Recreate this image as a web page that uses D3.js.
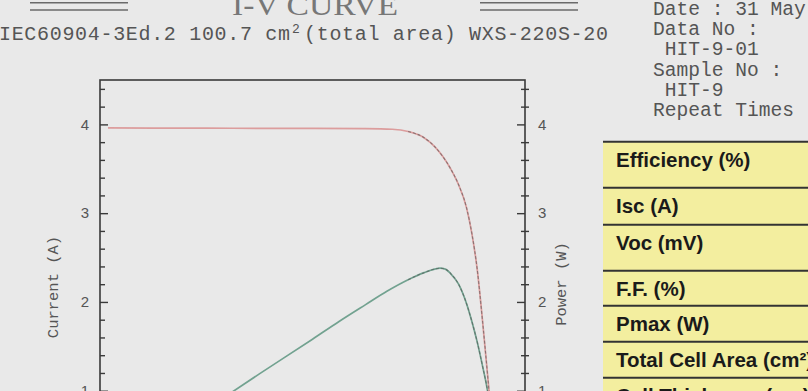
<!DOCTYPE html>
<html>
<head>
<meta charset="utf-8">
<script src="https://cdn.jsdelivr.net/npm/d3@7"></script>
<style>
body{margin:0;background:#e9e9e9;}
svg{display:block;}
</style>
</head>
<body>
<div id="chart"></div>
<script>
// I-V data (voltage in mV)
var voltage=[15,100,200,300,400,500,550,580,610,630,645,660,675,690,700,710,720,730,740,745];
var current=[3.96,3.958,3.957,3.956,3.955,3.952,3.945,3.92,3.85,3.75,3.64,3.5,3.32,3.06,2.77,2.37,1.79,1.15,0.45,0];
var powerVolt=[0,100,200,300,400,450,500,540,580,610,630,640,650,660,675,690,700,710,720,730,740,745];
var power=[0,0.396,0.79,1.19,1.58,1.78,1.97,2.12,2.25,2.33,2.37,2.38,2.37,2.32,2.2,1.98,1.78,1.55,1.28,0.98,0.5,0];
var majorTicks=[0,1,2,3,4];
var minorTicks=[0.2,0.4,0.6,0.8,1.2,1.4,1.6,1.8,2.2,2.4,2.6,2.8,3.2,3.4,3.6,3.8,4.2,4.4];
var title="I-V CURVE";
var subLeft="IEC60904-3Ed.2 100.7 cm";
var subSup="2";
var subRight="(total area) WXS-220S-20";
var infoLines=["Date : 31 May","Data No :"," HIT-9-01","Sample No :"," HIT-9","Repeat Times"];
var rowLabels=["Efficiency (%)","Isc (A)","Voc (mV)","F.F. (%)","Pmax (W)","Total Cell Area (cm\u00b2)","Cell Thickness (\u03bcm)"];

var wide=808;
var high=391;
var bg="#e9e9e9";
var ink="#555";
var plotLeft=100,plotRight=525,plotTop=80,zeroY=479.5;
var rowHeights=[46,37,46,35,36,36,36];

var svg=d3
  .select("#chart")
  .append("svg")
  .attr("width",wide)
  .attr("height",high)
  .style("background",bg);

// header
[[30,128],[480,578]].forEach(function(r){
  [2.8,10].forEach(function(yy){
    svg.append("line")
      .attr("x1",r[0]).attr("x2",r[1])
      .attr("y1",yy).attr("y2",yy)
      .attr("stroke","#6a6a6a").attr("stroke-width",1.6);
  });
});
svg.append("text")
  .attr("x",232).attr("y",15)
  .attr("font-family","Liberation Serif")
  .attr("font-size",30)
  .attr("textLength",166)
  .attr("lengthAdjust","spacingAndGlyphs")
  .attr("fill","#777")
  .text(title);
svg.append("text")
  .attr("x",-1).attr("y",40)
  .attr("font-family","Liberation Mono")
  .attr("font-size",20)
  .attr("textLength",291)
  .attr("fill",ink)
  .text(subLeft);
svg.append("text")
  .attr("x",292).attr("y",33)
  .attr("font-family","Liberation Mono")
  .attr("font-size",13)
  .attr("fill",ink)
  .text(subSup);
svg.append("text")
  .attr("x",304).attr("y",40)
  .attr("font-family","Liberation Mono")
  .attr("font-size",20)
  .attr("textLength",304)
  .attr("fill",ink)
  .text(subRight);
svg.append("g")
  .selectAll("text")
  .data(infoLines)
  .enter()
  .append("text")
  .attr("x",653)
  .attr("y",function(d,i){return 15+i*20.2;})
  .attr("font-family","Liberation Mono")
  .attr("font-size",19.6)
  .attr("fill",ink)
  .attr("xml:space","preserve")
  .style("white-space","pre")
  .text(function(d){return d;});

// scales
var xscale=d3.scaleLinear().domain([0,800]).range([plotLeft,plotRight]);
var yscale=d3.scaleLinear().domain([0,4.5]).range([zeroY,plotTop]);
var pscale=d3.scaleLinear().domain([0,4.5]).range([zeroY,plotTop]);

function styleAxis(g){
  g.select(".domain").remove();
  g.attr("color","#3a3a3a")
    .attr("font-family","Liberation Sans")
    .attr("font-size",15);
  g.selectAll("text").attr("fill",ink);
  g.selectAll(".tick line").attr("stroke-width",1.4);
}
svg.append("g")
  .attr("transform","translate("+plotLeft+",0)")
  .call(d3.axisLeft(yscale).tickValues(minorTicks).tickSize(-5).tickFormat(""))
  .call(styleAxis);
svg.append("g")
  .attr("transform","translate("+plotLeft+",0)")
  .call(d3.axisLeft(yscale).tickValues(majorTicks).tickSize(-8).tickPadding(11).tickFormat(d3.format("d")))
  .call(styleAxis);
svg.append("g")
  .attr("transform","translate("+plotRight+",0)")
  .call(d3.axisRight(pscale).tickValues(minorTicks).tickSize(4).tickFormat(""))
  .call(styleAxis)
  .selectAll(".tick line").attr("x1",-4);
svg.append("g")
  .attr("transform","translate("+plotRight+",0)")
  .call(d3.axisRight(pscale).tickValues(majorTicks).tickSize(-8).tickPadding(13).tickFormat(d3.format("d")))
  .call(styleAxis);

svg.append("rect")
  .attr("x",plotLeft).attr("y",plotTop)
  .attr("width",plotRight-plotLeft)
  .attr("height",zeroY-plotTop)
  .attr("fill","none")
  .attr("stroke","#3a3a3a")
  .attr("stroke-width",1.6);

svg.append("text")
  .attr("transform","translate(58,287)rotate(-90)")
  .attr("text-anchor","middle")
  .attr("font-family","Liberation Mono")
  .attr("font-size",15.5)
  .attr("fill",ink)
  .text("Current (A)");
svg.append("text")
  .attr("transform","translate(566,284)rotate(-90)")
  .attr("text-anchor","middle")
  .attr("font-family","Liberation Mono")
  .attr("font-size",15.5)
  .attr("fill",ink)
  .text("Power (W)");

// curves
var ivData=d3.zip(voltage,current);
var pvData=d3.zip(powerVolt,power);
var ivLine=d3.line()
  .x(function(d){return xscale(d[0]);})
  .y(function(d){return yscale(d[1]);})
  .curve(d3.curveMonotoneX);
var pvLine=d3.line()
  .x(function(d){return xscale(d[0]);})
  .y(function(d){return pscale(d[1]);})
  .curve(d3.curveMonotoneX);
svg.append("path")
  .attr("d",pvLine(pvData))
  .attr("fill","none")
  .attr("stroke","#72a290")
  .attr("stroke-width",1.7);
svg.append("path")
  .attr("d",ivLine(ivData))
  .attr("fill","none")
  .attr("stroke","#dc9d9d")
  .attr("stroke-width",1.7);
svg.append("path")
  .attr("d",pvLine(pvData.filter(function(d){return d[0]>=560;})))
  .attr("fill","none")
  .attr("stroke","#555")
  .attr("stroke-width",1.1)
  .attr("stroke-dasharray","3,2")
  .attr("opacity",0.6);
svg.append("path")
  .attr("d",ivLine(ivData.filter(function(d){return d[0]>=560;})))
  .attr("fill","none")
  .attr("stroke","#555")
  .attr("stroke-width",1.1)
  .attr("stroke-dasharray","3,2")
  .attr("opacity",0.6);

// parameter table
var tableLeft=603,tableTop=141.7;
var tops=[];
var acc=tableTop;
rowHeights.forEach(function(h){tops.push(acc);acc+=h;});
svg.append("rect")
  .attr("x",tableLeft).attr("y",tableTop)
  .attr("width",wide-tableLeft)
  .attr("height",acc-tableTop)
  .attr("fill","#f3ee9f");
var rows=svg.append("g").selectAll("g").data(rowLabels).enter().append("g");
rows.append("line")
  .attr("x1",tableLeft).attr("x2",wide)
  .attr("y1",function(d,i){return tops[i];})
  .attr("y2",function(d,i){return tops[i];})
  .attr("stroke","#333")
  .attr("stroke-width",2);
rows.append("text")
  .attr("x",616)
  .attr("y",function(d,i){return tops[i]+25;})
  .attr("font-family","Liberation Sans")
  .attr("font-weight","bold")
  .attr("font-size",20.5)
  .attr("fill","#1a1a1a")
  .text(function(d){return d;});
</script>
</body>
</html>
